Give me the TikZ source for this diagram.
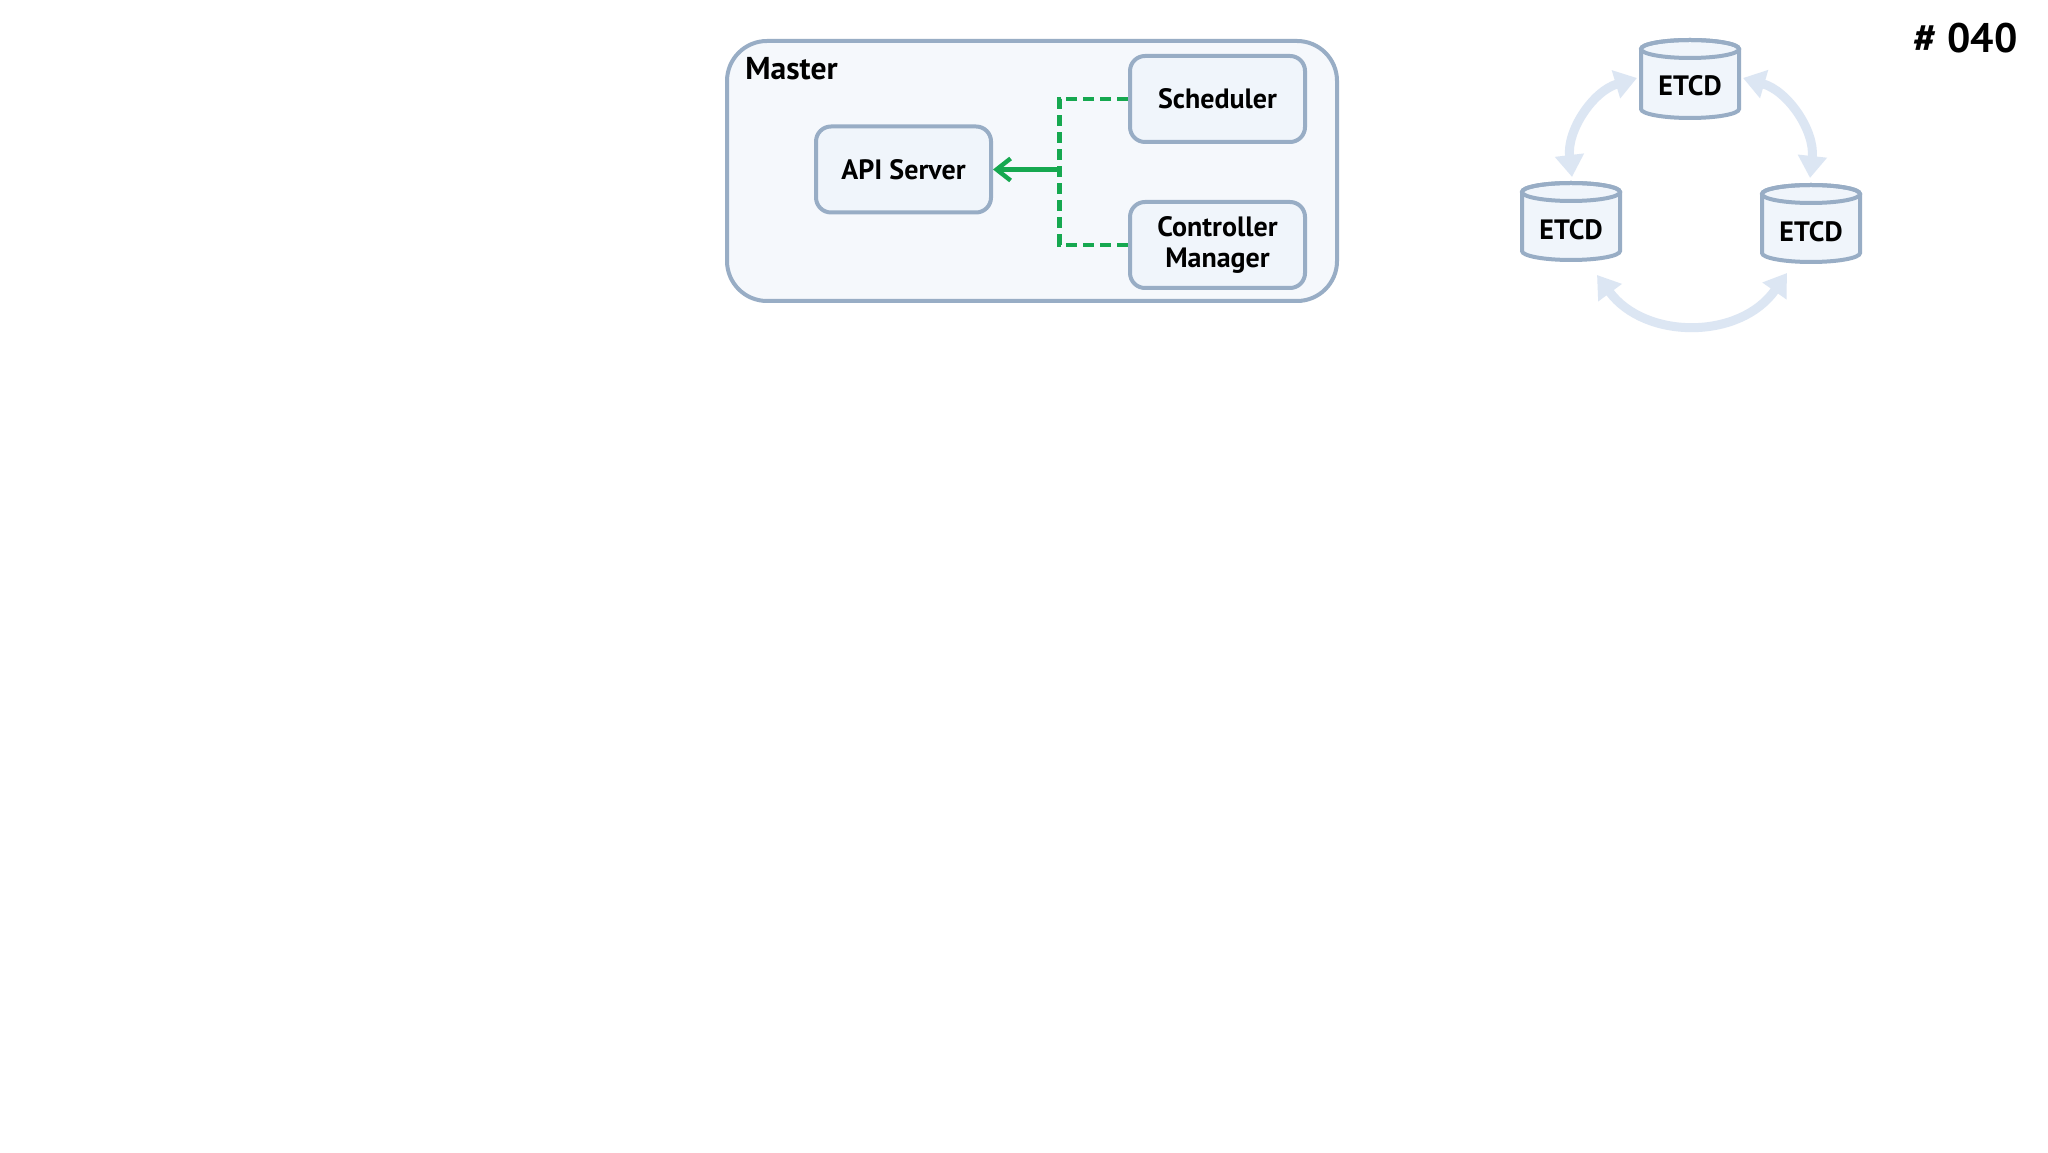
\documentclass[tikz,border=0pt]{standalone}
\usepackage{fontspec}
\setmainfont{PT Sans}
\usetikzlibrary{arrows.meta}
\definecolor{bord}{RGB}{152,173,197}
\definecolor{fillm}{RGB}{245,248,252}
\definecolor{fillb}{RGB}{240,245,251}
\definecolor{grn}{RGB}{22,168,80}
\definecolor{ring}{RGB}{220,230,243}
\newcommand\drawcyl[3]{% cx, ytop, ybot
  \path[draw=bord, fill=fillb, line width=2pt] ({#1-49},{#2-9}) -- ({#1-49},{#3+9})
    arc[start angle=180,end angle=360,x radius=49,y radius=9] -- ({#1+49},{#2-9})
    arc[start angle=0,end angle=180,x radius=49,y radius=9] -- cycle;
  \draw[bord, line width=2pt] (#1,{#2-9}) ellipse[x radius=49, y radius=9];}
\begin{document}
\begin{tikzpicture}[x=0.5pt,y=0.5pt,
  lbl/.style={font=\fontsize{14}{15.5}\selectfont\bfseries, align=center},
  comp/.style={lbl, draw=bord, fill=fillb, line width=2pt, rounded corners=7.5pt, minimum width=87.5pt, minimum height=43pt, inner sep=0pt},
  dashlink/.style={draw=grn, line width=2.2pt, dash pattern=on 5.5pt off 3pt},
  ringarrow/.style={draw=ring, line width=4.5pt, {Triangle[width=14pt,length=11pt]}-{Triangle[width=14pt,length=11pt]}},
  ]
\useasboundingbox (0,0) rectangle (2048,1152);
\fill[white] (0,0) rectangle (2048,1152);
% master
\node[draw=bord, fill=fillm, line width=2pt, rounded corners=20pt, minimum width=305pt, minimum height=130pt] (master) at (1032,981) {};
\node[font=\fontsize{15.8}{18}\selectfont\bfseries, anchor=base west, inner sep=0pt] (mlabel) at (745,1072) {Master};
\node[comp] (sched) at (1217.5,1053) {\raisebox{-1.5pt}{Scheduler}};
\node[comp] (cm) at (1217.5,907) {Controller\\Manager};
\node[comp] (api) at (903.5,982.5) {\raisebox{-1pt}{API Server}};
\coordinate (j) at (1059.5,982.5);
\draw[dashlink] (sched.west) -| (j) |- (cm.west);
\draw[grn, line width=2.2pt, -{Straight Barb[length=7pt,width=11pt]}] (j) -- (api.east);
% etcd
\drawcyl{1690}{1112}{1034}
\drawcyl{1571}{969}{892}
\drawcyl{1811}{967}{890}
\node[lbl, inner sep=0pt] (e1) at (1690,1066) {ETCD};
\node[lbl, inner sep=0pt] (e2) at (1571,922) {ETCD};
\node[lbl, inner sep=0pt] (e3) at (1811,920) {ETCD};
\coordinate (a1s) at (1637,1074);
\coordinate (a1e) at (1572,975);
\coordinate (a2s) at (1743,1074);
\coordinate (a2e) at (1810,974);
\coordinate (a3s) at (1597,877);
\coordinate (a3e) at (1787,879);
\draw[ringarrow] (a1s) to[bend right=40] (a1e);
\draw[ringarrow] (a2s) to[bend left=40] (a2e);
\draw[ringarrow] (a3s) .. controls (1645,812) and (1740,812) .. (a3e);
\node[font=\fontsize{20.6}{24}\selectfont\bfseries, anchor=base east, inner sep=0pt] (num) at (2018,1099) {\# 040};
\end{tikzpicture}
\end{document}
